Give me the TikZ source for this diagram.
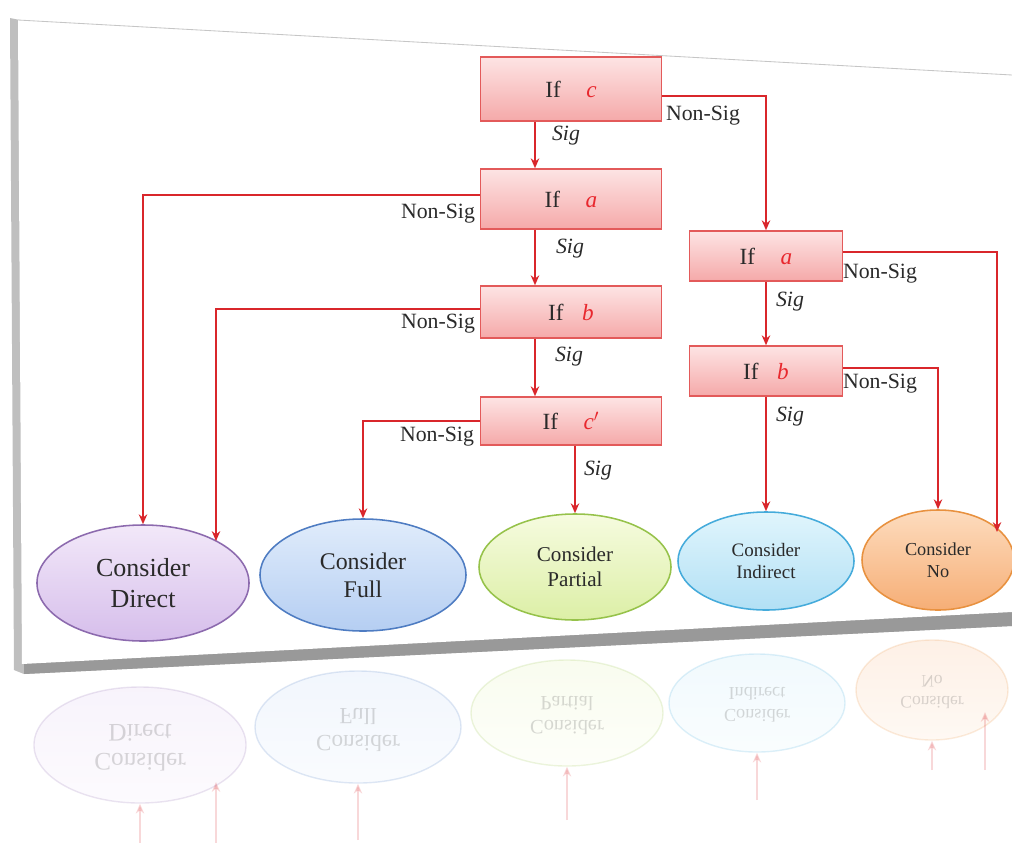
\documentclass[tikz,border=0pt]{standalone}
\usepackage{fontspec}
\usepackage{graphicx}
\setmainfont{Liberation Serif}
\usetikzlibrary{shapes.geometric,arrows.meta}
\definecolor{boxred}{HTML}{E35A5A}
\definecolor{pinkA}{HTML}{FDE4E4}
\definecolor{pinkB}{HTML}{F5A9A9}
\definecolor{arrred}{HTML}{D9262B}
\definecolor{varred}{HTML}{E8282E}
\definecolor{txt}{HTML}{2A2A2A}
\definecolor{dirA}{HTML}{F2E8F9}\definecolor{dirB}{HTML}{D6BEEB}\definecolor{dirD}{HTML}{8C6AAE}
\definecolor{fulA}{HTML}{E0ECFB}\definecolor{fulB}{HTML}{B5CEF2}\definecolor{fulD}{HTML}{4E7CC2}
\definecolor{parA}{HTML}{F6FBDF}\definecolor{parB}{HTML}{DCEFA6}\definecolor{parD}{HTML}{96C24A}
\definecolor{indA}{HTML}{E0F5FC}\definecolor{indB}{HTML}{B2E0F5}\definecolor{indD}{HTML}{45ABDB}
\definecolor{nooA}{HTML}{FDDCBE}\definecolor{nooB}{HTML}{F6AE76}\definecolor{nooD}{HTML}{E8913F}
\newcommand{\vr}[1]{\textcolor{varred}{\textit{#1}}}
\begin{document}
\begin{tikzpicture}[x=0.025cm,y=-0.025cm,
  cond/.style={draw=boxred, line width=1.1pt, top color=pinkA, bottom color=pinkB,
    minimum width=4.525cm, minimum height=1.5cm, inner sep=0pt, text=txt,
    font=\fontsize{16.5}{18}\selectfont},
  conn/.style={draw=arrred, line width=1.3pt, -{Stealth[length=7pt,width=6pt]}},
  nslab/.style={text=txt, font=\fontsize{15.5}{17}\selectfont, inner sep=1pt},
  siglab/.style={text=txt, font=\itshape\fontsize{15.5}{17}\selectfont, inner sep=1pt},
  ell/.style={ellipse, line width=1.1pt, inner sep=0pt, align=center, text=txt},
  refl/.style={ellipse, line width=1pt, inner sep=0pt, align=center, text=txt}
]
\useasboundingbox (0,0) rectangle (1012,842);
% frame
\fill[gray!50] (10,18) -- (20,20) -- (24,660) -- (1012,606) -- (1012,626) -- (24,674) -- (14,670) -- cycle;
\fill[gray!80] (24,662) -- (1012,610) -- (1012,626) -- (24,674) -- cycle;
\fill[white] (18,20) -- (1012,75) -- (1012,612) -- (22,664) -- cycle;
\draw[gray!45, line width=0.6pt] (18,20) -- (1012,75);

% reflection
\begin{scope}[opacity=0.18]
\node[refl, draw=dirD, top color=dirB, bottom color=dirA, minimum width=5.3cm, minimum height=2.9cm, font=\fontsize{18}{21}\selectfont] (rdir) at (140,745) {\scalebox{1}[-1]{\begin{tabular}{c}Consider\\Direct\end{tabular}}};
\node[refl, draw=fulD, top color=fulB, bottom color=fulA, minimum width=5.15cm, minimum height=2.8cm, font=\fontsize{16.5}{19}\selectfont] (rful) at (358,727) {\scalebox{1}[-1]{\begin{tabular}{c}Consider\\Full\end{tabular}}};
\node[refl, draw=parD, top color=parB, bottom color=parA, minimum width=4.8cm, minimum height=2.65cm, font=\fontsize{14.5}{17}\selectfont] (rpar) at (567,713) {\scalebox{1}[-1]{\begin{tabular}{c}Consider\\Partial\end{tabular}}};
\node[refl, draw=indD, top color=indB, bottom color=indA, minimum width=4.4cm, minimum height=2.45cm, font=\fontsize{13}{15.5}\selectfont] (rind) at (757,703) {\scalebox{1}[-1]{\begin{tabular}{c}Consider\\Indirect\end{tabular}}};
\node[refl, draw=nooD, top color=nooB, bottom color=nooA, minimum width=3.8cm, minimum height=2.5cm, font=\fontsize{12.5}{15}\selectfont] (rnoo) at (932,690) {\scalebox{1}[-1]{\begin{tabular}{c}Consider\\No\end{tabular}}};
\coordinate (rq1) at (140,850); \coordinate (rq2) at (216,850); \coordinate (rq3) at (358,840);
\coordinate (rq4) at (567,820); \coordinate (rq5) at (757,800); \coordinate (rq6) at (932,770); \coordinate (rq7) at (985,770);
\coordinate (rt2) at (216,782); \coordinate (rt7) at (985,712);
\draw[conn] (rq1) -- (rdir.south);
\draw[conn] (rq2) -- (rt2);
\draw[conn] (rq3) -- (rful.south);
\draw[conn] (rq4) -- (rpar.south);
\draw[conn] (rq5) -- (rind.south);
\draw[conn] (rq6) -- (rnoo.south);
\draw[conn] (rq7) -- (rt7);
\end{scope}

% decision boxes
\node[cond, minimum height=1.6cm] (c1) at (571,89) {If\hspace{1.1em}\vr{c}};
\node[cond] (a1) at (571,199) {If\hspace{1.1em}\vr{a}};
\node[cond, minimum height=1.3cm] (b1) at (571,312) {If\hspace{0.8em}\vr{b}};
\node[cond, minimum height=1.2cm] (cp) at (571,421) {If\hspace{1.1em}\vr{c$'$}};
\node[cond, minimum width=3.825cm, minimum height=1.25cm] (a2) at (766,256) {If\hspace{1.1em}\vr{a}};
\node[cond, minimum width=3.825cm, minimum height=1.25cm] (b2) at (766,371) {If\hspace{0.8em}\vr{b}};

% outcomes
\node[ell, draw=dirD, top color=dirA, bottom color=dirB, minimum width=5.3cm, minimum height=2.9cm, font=\fontsize{18.5}{21.5}\selectfont] (dir) at (143,583) {Consider\\Direct};
\node[ell, draw=fulD, top color=fulA, bottom color=fulB, minimum width=5.15cm, minimum height=2.8cm, font=\fontsize{17}{20}\selectfont] (ful) at (363,575) {Consider\\Full};
\node[ell, draw=parD, top color=parA, bottom color=parB, minimum width=4.8cm, minimum height=2.65cm, font=\fontsize{15}{18}\selectfont] (par) at (575,567) {Consider\\Partial};
\node[ell, draw=indD, top color=indA, bottom color=indB, minimum width=4.4cm, minimum height=2.45cm, font=\fontsize{13.5}{16}\selectfont] (ind) at (766,561) {Consider\\Indirect};
\node[ell, draw=nooD, top color=nooA, bottom color=nooB, minimum width=3.8cm, minimum height=2.5cm, font=\fontsize{13}{15.5}\selectfont] (noo) at (938,560) {Consider\\No};

% x positions and free ends
\coordinate (xL) at (535,0);
\coordinate (xP) at (575,0);
\coordinate (dirR) at (216,541);
\coordinate (nooR) at (997,532);

% connectors
\draw[conn] (c1.south -| xL) -- (a1.north -| xL);
\node[siglab] (s1) at (566,136) {Sig};
\draw[conn] ([yshift=-5pt]c1.east) -| (a2.north);
\node[nslab] (n1) at (703,116) {Non-Sig};

\draw[conn] ([yshift=3pt]a1.west) -| (dir.north);
\node[nslab] (n2) at (438,214) {Non-Sig};
\draw[conn] (a1.south -| xL) -- (b1.north -| xL);
\node[siglab] (s2) at (570,249) {Sig};

\draw[conn] ([yshift=2pt]b1.west) -| (dirR);
\node[nslab] (n3) at (438,324) {Non-Sig};
\draw[conn] (b1.south -| xL) -- (cp.north -| xL);
\node[siglab] (s3) at (569,357) {Sig};

\draw[conn] (cp.west) -| (ful.north);
\node[nslab] (n4) at (437,437) {Non-Sig};
\draw[conn] (cp.south -| xP) -- (par.north);
\node[siglab] (s4) at (598,471) {Sig};

\draw[conn] (a2.south) -- (b2.north);
\node[siglab] (s5) at (790,302) {Sig};
\draw[conn] ([yshift=3pt]a2.east) -| (nooR);
\node[nslab] (n5) at (880,274) {Non-Sig};

\draw[conn] (b2.south) -- (ind.north);
\node[siglab] (s6) at (790,417) {Sig};
\draw[conn] ([yshift=2pt]b2.east) -| (noo.north);
\node[nslab] (n6) at (880,384) {Non-Sig};
\end{tikzpicture}
\end{document}
